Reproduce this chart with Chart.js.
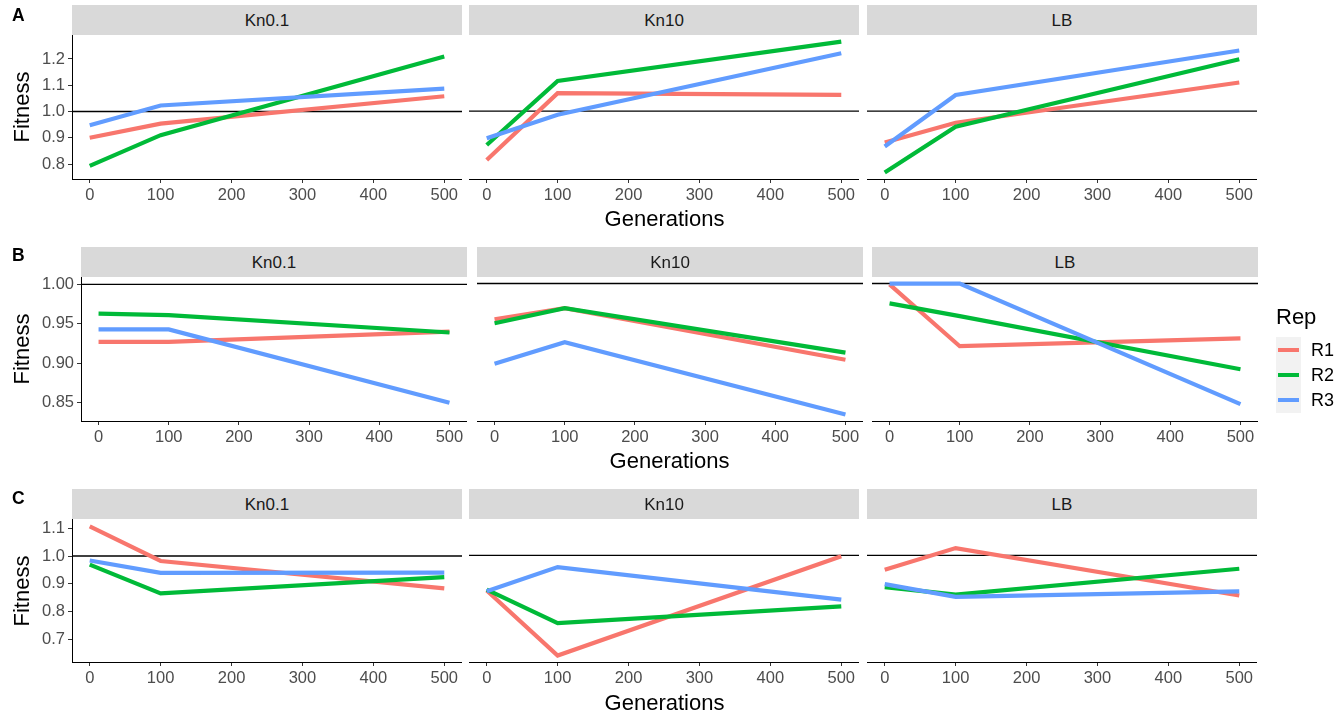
<!DOCTYPE html>
<html>
<head>
<meta charset="utf-8">
<script src="https://cdn.jsdelivr.net/npm/chart.js@4/dist/chart.umd.min.js"></script>
<style>
  html, body { margin: 0; padding: 0; background: #fff; }
  #fig { position: relative; width: 1335px; height: 717px; overflow: hidden;
         font-family: 'Liberation Sans', Arial, sans-serif; background: #fff; }
  .strip { position: absolute; background: #D9D9D9; color: #1A1A1A; font-size: 17px;
           text-align: center; line-height: 32px; height: 30px; overflow: hidden; }
  .lbl { position: absolute; line-height: 1; white-space: nowrap; }
  canvas { position: absolute; }
</style>
</head>
<body>
<div id="fig"></div>
<script>
// ---- data ----------------------------------------------------------------
const GENERATIONS = [0, 100, 500];
const X_TICKS = [0, 100, 200, 300, 400, 500];
const REPS = ['R1', 'R2', 'R3'];
const REP_COLORS = ['#F8766D', '#00BA38', '#619CFF'];
const MEDIA = ['Kn0.1', 'Kn10', 'LB'];
const REFERENCE_FITNESS = 1;

// Panel A: fitness per replicate (rows R1, R2, R3) at each generation
const A_Kn01 = [[0.900, 0.954, 1.058], [0.793, 0.910, 1.209], [0.948, 1.023, 1.087]];
const A_Kn10 = [[0.815, 1.068, 1.061], [0.872, 1.114, 1.263], [0.897, 0.986, 1.219]];
const A_LB   = [[0.881, 0.956, 1.108], [0.768, 0.941, 1.196], [0.866, 1.061, 1.229]];

// Panel B
const B_Kn01 = [[0.927, 0.927, 0.940], [0.963, 0.961, 0.939], [0.943, 0.943, 0.850]];
const B_Kn10 = [[0.955, 0.969, 0.904], [0.950, 0.969, 0.913], [0.899, 0.926, 0.835]];
const B_LB   = [[0.999, 0.921, 0.931], [0.975, 0.959, 0.892], [1.000, 1.000, 0.848]];

// Panel C
const C_Kn01 = [[1.107, 0.982, 0.883], [0.969, 0.865, 0.924], [0.984, 0.939, 0.940]];
const C_Kn10 = [[0.874, 0.641, 0.997], [0.877, 0.757, 0.817], [0.871, 0.958, 0.841]];
const C_LB   = [[0.948, 1.026, 0.856], [0.886, 0.859, 0.952], [0.897, 0.851, 0.871]];

const Y_TICKS_A = [0.8, 0.9, 1.0, 1.1, 1.2];
const Y_LABELS_A = ['0.8', '0.9', '1.0', '1.1', '1.2'];
const Y_TICKS_B = [0.85, 0.90, 0.95, 1.00];
const Y_LABELS_B = ['0.85', '0.90', '0.95', '1.00'];
const Y_TICKS_C = [0.7, 0.8, 0.9, 1.0, 1.1];
const Y_LABELS_C = ['0.7', '0.8', '0.9', '1.0', '1.1'];

// ---- layout --------------------------------------------------------------
const FONT = "'Liberation Sans', Arial, sans-serif";
const TICK_COLOR = '#4D4D4D';
const ROWS = [
  { letter: 'A', panels: [A_Kn01, A_Kn10, A_LB], ticks: Y_TICKS_A, labels: Y_LABELS_A,
    top: 35, h: 144, lefts: [72, 469, 867], w: 390, letterY: 16, genY: 219 },
  { letter: 'B', panels: [B_Kn01, B_Kn10, B_LB], ticks: Y_TICKS_B, labels: Y_LABELS_B,
    top: 277, h: 144, lefts: [81, 477, 872], w: 386, letterY: 256, genY: 461 },
  { letter: 'C', panels: [C_Kn01, C_Kn10, C_LB], ticks: Y_TICKS_C, labels: Y_LABELS_C,
    top: 519, h: 143, lefts: [72, 469, 867], w: 390, letterY: 499, genY: 703 }
];
const STRIP_H = 30;
const PAD_TOP = 12;
const X_AXIS_H = 30;
const Y_AXIS_W = 60;

const fig = document.getElementById('fig');
Chart.defaults.font.family = FONT;

// ggplot-style 5% expansion of a continuous range
function expand(lo, hi) {
  const pad = (hi - lo) * 0.05;
  return [lo - pad, hi + pad];
}
const X_RANGE = expand(Math.min(...GENERATIONS), Math.max(...GENERATIONS));

function addText(text, x, y, size, opts = {}) {
  const d = document.createElement('div');
  d.className = 'lbl';
  d.textContent = text;
  d.style.fontSize = size + 'px';
  d.style.left = x + 'px';
  d.style.top = y + 'px';
  d.style.color = opts.color || '#000';
  if (opts.bold) d.style.fontWeight = 'bold';
  d.style.transform = opts.transform || 'translate(0,-50%)';
  fig.appendChild(d);
  return d;
}

function makePanel(row, col, yRange) {
  const yW = col === 0 ? Y_AXIS_W : 0;
  const cw = yW + row.w;
  const ch = PAD_TOP + row.h + X_AXIS_H;
  const cv = document.createElement('canvas');
  cv.width = cw; cv.height = ch;
  cv.style.width = cw + 'px'; cv.style.height = ch + 'px';
  cv.style.left = (row.lefts[col] - yW) + 'px';
  cv.style.top = (row.top - PAD_TOP) + 'px';
  fig.appendChild(cv);

  const datasets = [{
    label: 'reference',
    data: [{ x: X_RANGE[0], y: REFERENCE_FITNESS }, { x: X_RANGE[1], y: REFERENCE_FITNESS }],
    borderColor: '#000', borderWidth: 1.4, order: 10
  }];
  row.panels[col].forEach((vals, i) => {
    datasets.push({
      label: REPS[i],
      data: GENERATIONS.map((g, k) => ({ x: g, y: vals[k] })),
      borderColor: REP_COLORS[i], borderWidth: 4.2, order: 3 - i
    });
  });

  const gridOpts = { display: true, drawOnChartArea: false, drawTicks: true, tickLength: 4, color: '#333', lineWidth: 1 };
  const borderOpts = { display: true, color: '#000', width: 1 };
  const tickFont = { size: 16.5, family: FONT };

  new Chart(cv, {
    type: 'line',
    data: { datasets },
    options: {
      responsive: false, animation: false, devicePixelRatio: 1,
      layout: { padding: { top: PAD_TOP, left: 0, right: 0, bottom: 0 } },
      plugins: { legend: { display: false }, tooltip: { enabled: false } },
      elements: { point: { radius: 0 }, line: { tension: 0, borderCapStyle: 'butt', borderJoinStyle: 'miter' } },
      scales: {
        x: {
          type: 'linear', min: X_RANGE[0], max: X_RANGE[1],
          afterBuildTicks: s => { s.ticks = X_TICKS.map(v => ({ value: v })); },
          ticks: { autoSkip: false, maxRotation: 0, padding: 3, color: TICK_COLOR, font: tickFont,
                   callback: v => String(v) },
          grid: gridOpts, border: borderOpts,
          afterFit: s => { s.height = X_AXIS_H; }
        },
        y: {
          type: 'linear', min: yRange[0], max: yRange[1], display: col === 0,
          afterBuildTicks: s => { s.ticks = row.ticks.map(v => ({ value: v })); },
          ticks: { autoSkip: false, padding: 3, color: TICK_COLOR, font: tickFont,
                   callback: (v, i) => row.labels[i] },
          grid: gridOpts, border: borderOpts,
          afterFit: s => { s.width = yW; }
        }
      }
    }
  });
}

ROWS.forEach(row => {
  const all = row.panels.flat(2).concat([REFERENCE_FITNESS]);
  const yRange = expand(Math.min(...all), Math.max(...all));

  // facet strips
  MEDIA.forEach((m, col) => {
    const s = document.createElement('div');
    s.className = 'strip';
    s.textContent = m;
    s.style.left = row.lefts[col] + 'px';
    s.style.width = row.w + 'px';
    s.style.top = (row.top - STRIP_H) + 'px';
    fig.appendChild(s);
    makePanel(row, col, yRange);
  });

  // panel letter and axis titles
  addText(row.letter, 12, row.letterY, 17.5, { bold: true });
  const right = row.lefts[2] + row.w;
  addText('Generations', (row.lefts[0] + right) / 2, row.genY, 22, { transform: 'translate(-50%,-50%)' });
  addText('Fitness', 22, row.top + row.h / 2, 22, { transform: 'translate(-50%,-50%) rotate(-90deg)' });
});

// legend (drawn beside panel B)
addText('Rep', 1276, 317, 22);
const KEY_TOP = 337, KEY_H = 25.3;
REPS.forEach((r, i) => {
  const key = document.createElement('div');
  key.style.cssText = `position:absolute;left:1276px;top:${KEY_TOP + i * KEY_H}px;width:25px;height:${KEY_H}px;background:#F2F2F2;`;
  const line = document.createElement('div');
  line.style.cssText = `position:absolute;left:2px;width:21px;height:4px;top:${KEY_H / 2 - 2}px;background:${REP_COLORS[i]};`;
  key.appendChild(line);
  fig.appendChild(key);
  addText(r, 1311, KEY_TOP + i * KEY_H + KEY_H / 2, 18);
});
</script>
</body>
</html>
